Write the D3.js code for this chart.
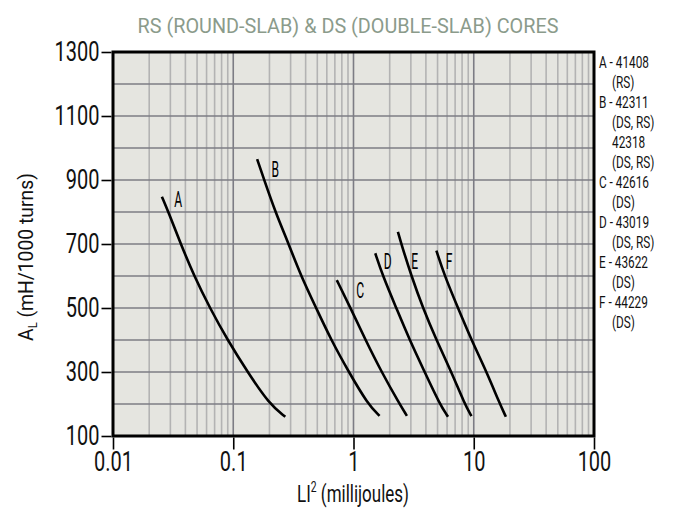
<!DOCTYPE html>
<html>
<head>
<meta charset="utf-8">
<script src="https://cdn.jsdelivr.net/npm/d3@7"></script>
<style>
  html, body { margin: 0; padding: 0; background: #ffffff; }
  svg text { font-family: Roboto, "Noto Sans", sans-serif; }
</style>
</head>
<body>
<svg id="chart" width="682" height="510"></svg>
<script>
// Tick values
const xTicks = [0.01, 0.1, 1, 10, 100];
const yTicks = [100, 300, 500, 700, 900, 1100, 1300];

// A_L versus LI^2 for each core family: [LI^2 (mJ), A_L (mH/1000 turns)]
const curveA = [[0.0255, 848], [0.0289, 800], [0.0366, 700], [0.0473, 600], [0.0639, 500], [0.0897, 400], [0.1316, 300], [0.1995, 200], [0.271, 160]];
const curveB = [[0.158, 965], [0.181, 900], [0.224, 800], [0.289, 700], [0.366, 600], [0.489, 500], [0.652, 400], [0.914, 300], [1.315, 200], [1.647, 163]];
const curveC = [[0.726, 587], [0.944, 500], [1.259, 400], [1.711, 300], [2.417, 200], [2.78, 163]];
const curveD = [[1.517, 671], [1.754, 600], [2.27, 500], [2.93, 400], [3.91, 300], [5.21, 200], [6.11, 160]];
const curveE = [[2.34, 738], [2.50, 700], [3.03, 600], [3.78, 500], [4.89, 400], [6.52, 300], [8.41, 200], [9.57, 162]];
const curveF = [[4.89, 679], [5.73, 600], [7.40, 500], [9.57, 400], [12.8, 300], [16.5, 200], [18.5, 160]];

// Curve letters and where they sit: [letter, LI^2, A_L]
const curveLabels = [["A", 0.0348, 838], ["B", 0.224, 933], ["C", 1.137, 554], ["D", 1.93, 645], ["E", 3.22, 645], ["F", 6.23, 645]];

// Part numbers listed to the right of the plot
const legendLines = ["A - 41408", "(RS)", "B - 42311", "(DS, RS)", "42318", "(DS, RS)", "C - 42616", "(DS)", "D - 43019", "(DS, RS)", "E - 43622", "(DS)", "F - 44229", "(DS)"];
const legendIndent = [false, true, false, true, true, true, false, true, false, true, false, true, false, true];

const titleText = "RS (ROUND-SLAB) & DS (DOUBLE-SLAB) CORES";

const svg = d3.select("#chart");
const plot = { left: 113, right: 594, top: 52, bottom: 436 };

const x = d3.scaleLog().domain([0.01, 100]).range([plot.left, plot.right]);
const y = d3.scaleLinear().domain([100, 1300]).range([plot.bottom, plot.top]);

// Narrow a text element horizontally about its own anchor point.
function squeeze(sel, sx) {
  sel.each(function () {
    const t = d3.select(this);
    const tx = +t.attr("x") || 0, ty = +t.attr("y") || 0;
    const prev = t.attr("transform") || "";
    t.attr("x", 0).attr("y", 0)
      .attr("transform", `${prev} translate(${tx},${ty}) scale(${sx},1)`);
  });
}
// Squeeze factor that brings a text node to a given width.
function fitFactor(node, width) {
  return width / node.getComputedTextLength();
}

// Plot background
svg.append("rect")
  .attr("x", plot.left).attr("y", plot.top)
  .attr("width", plot.right - plot.left).attr("height", plot.bottom - plot.top)
  .attr("fill", "#e5e5e0");

// Vertical grid: light lines at 2..9 of each decade, darker on decades
const grid = svg.append("g");
const minorX = [];
for (let d = 0.01; d < 100; d *= 10) {
  for (let k = 2; k <= 9; k++) minorX.push(+(k * d).toPrecision(3));
}
grid.selectAll("line.minor").data(minorX).join("line")
  .attr("class", "minor")
  .attr("x1", d => x(d)).attr("x2", d => x(d))
  .attr("y1", plot.top).attr("y2", plot.bottom)
  .attr("stroke", "#b3b3b3").attr("stroke-width", 1.6);

// Horizontal grid every 100
const hLines = d3.range(200, 1300, 100);
grid.selectAll("line.h").data(hLines).join("line")
  .attr("class", "h")
  .attr("x1", plot.left).attr("x2", plot.right)
  .attr("y1", d => y(d)).attr("y2", d => y(d))
  .attr("stroke", "#7c7c84").attr("stroke-width", 1.6);

grid.selectAll("line.major").data(xTicks.slice(1, -1)).join("line")
  .attr("class", "major")
  .attr("x1", d => x(d)).attr("x2", d => x(d))
  .attr("y1", plot.top).attr("y2", plot.bottom)
  .attr("stroke", "#7c7c84").attr("stroke-width", 1.6);

// Curves (B-spline through the read-off points keeps them smooth)
const line = d3.line()
  .x(d => x(d[0])).y(d => y(d[1]))
  .curve(d3.curveBasis);

svg.append("g").selectAll("path")
  .data([curveA, curveB, curveC, curveD, curveE, curveF])
  .join("path")
  .attr("d", line)
  .attr("fill", "none")
  .attr("stroke", "#000")
  .attr("stroke-width", 2.6);

const letters = svg.append("g").selectAll("text")
  .data(curveLabels).join("text")
  .attr("x", d => x(d[1])).attr("y", d => y(d[2]))
  .attr("text-anchor", "middle")
  .attr("dominant-baseline", "central")
  .attr("font-size", 22)
  .attr("fill", "#000")
  .text(d => d[0]);
squeeze(letters, 0.55);

// Frame
svg.append("rect")
  .attr("x", plot.left).attr("y", plot.top)
  .attr("width", plot.right - plot.left).attr("height", plot.bottom - plot.top)
  .attr("fill", "none").attr("stroke", "#000").attr("stroke-width", 3);

// Axes
const yAxis = d3.axisLeft(y).tickValues(yTicks).tickSize(10).tickPadding(2).tickFormat(d3.format("d"));
const yg = svg.append("g").attr("transform", `translate(${plot.left - 1.5},0)`).call(yAxis);
yg.select(".domain").remove();
yg.selectAll(".tick line").attr("stroke", "#000").attr("stroke-width", 1.6);
const yLabels = yg.selectAll(".tick text").attr("font-size", 28).attr("fill", "#111").attr("font-family", null);

const xAxis = d3.axisBottom(x).tickValues(xTicks).tickSize(12).tickPadding(2)
  .tickFormat(d => d < 1 ? String(d) : d3.format("d")(d));
const xg = svg.append("g").attr("transform", `translate(0,${plot.bottom + 1.5})`).call(xAxis);
xg.select(".domain").remove();
xg.selectAll(".tick line").attr("stroke", "#000").attr("stroke-width", 1.6);
const xLabels = xg.selectAll(".tick text").attr("font-size", 28).attr("fill", "#111").attr("font-family", null);

const tickSx = fitFactor(yLabels.filter(d => d === 1300).node(), 45);
squeeze(yLabels, tickSx);
squeeze(xLabels, tickSx);

// Title
const title = svg.append("text")
  .attr("x", 348).attr("y", 33)
  .attr("text-anchor", "middle")
  .attr("font-size", 21)
  .attr("fill", "#8b9b8b")
  .text(titleText);
squeeze(title, fitFactor(title.node(), 421));

// Axis titles
const xt = svg.append("text")
  .attr("x", 353).attr("y", 502)
  .attr("text-anchor", "middle")
  .attr("font-size", 23)
  .attr("fill", "#111");
xt.append("tspan").text("LI");
xt.append("tspan").attr("font-size", 14).attr("dy", -10).text("2");
xt.append("tspan").attr("dy", 10).text(" (millijoules)");
squeeze(xt, fitFactor(xt.node(), 112));

const yt = svg.append("text")
  .attr("transform", "translate(33,257) rotate(-90)")
  .attr("text-anchor", "middle")
  .attr("font-size", 21)
  .attr("fill", "#111");
yt.append("tspan").text("A");
yt.append("tspan").attr("font-size", 12).attr("dy", 4).text("L");
yt.append("tspan").attr("dy", -4).text(" (mH/1000 turns)");
squeeze(yt, fitFactor(yt.node(), 168));

// Right-hand list
const legend = svg.append("g").selectAll("text")
  .data(legendLines).join("text")
  .attr("x", (d, i) => legendIndent[i] ? 612 : 599)
  .attr("y", (d, i) => 62 + i * 20)
  .attr("dominant-baseline", "central")
  .attr("font-size", 17)
  .attr("fill", "#111")
  .text(d => d);
squeeze(legend, fitFactor(legend.node(), 50));
</script>
</body>
</html>
